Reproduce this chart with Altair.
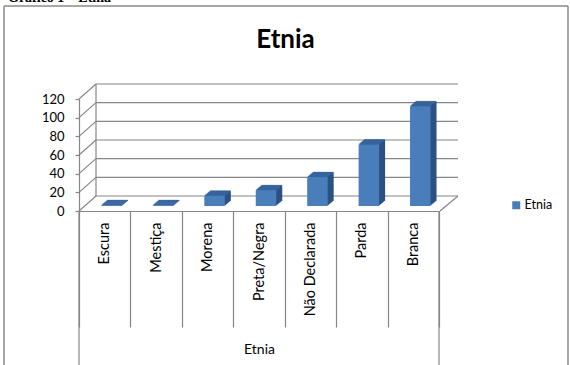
import altair as alt
import pandas as pd

# ---- data ----
categories = ["Escura", "Mestiça", "Morena", "Preta/Negra", "Não Declarada", "Parda", "Branca"]
values = [1, 1, 11, 17, 31, 66, 107]
series = ["Etnia"] * len(categories)
grid_values = [0, 20, 40, 60, 80, 100, 120]
chart_title = "Etnia"
axis_title = "Etnia"
header_text = "Gráfico 1 – Etnia"

df = pd.DataFrame({"categoria": categories, "valor": values, "serie": series})
grid_df = pd.DataFrame({"valor": grid_values})
edge_df = pd.DataFrame({"valor": [grid_values[0]], "topo": [grid_values[-1]]})
one = pd.DataFrame({"t": [chart_title]})
hdr = pd.DataFrame({"t": [header_text]})

# ---- layout / style ----
W, H = 360, 112
PAD_L, PAD_T = 79, 99
FRONT = "#4A7EBB"
SIDE = "#2B5183"
TOP = "#3A68A2"
GRAY = "#868686"
FONT = "Lato"
BW = 20.5          # bar front width
XO = 7.0           # bar shift to mid depth
YO = -5.0
DX, DY = 6.0, 5.0  # bar depth
WALL_DX, WALL_DY = 17.0, 15.0
NSTEP = 6

yscale = alt.Scale(domain=[0, 120], nice=False)
xscale = alt.Scale(paddingInner=0, paddingOuter=0)

x_axis = alt.Axis(
    title=axis_title, titleFont=FONT, titleFontSize=14, titleFontWeight="normal",
    titleColor="black", titlePadding=15,
    labelAngle=270, labelAlign="right", labelBaseline="middle",
    labelFont=FONT, labelFontSize=14.5, labelColor="black", labelPadding=-105,
    tickBand="extent", tickSize=116, tickColor=GRAY, tickWidth=1.2,
    domainColor=GRAY, domainWidth=1.2,
)
y_axis = alt.Axis(
    title=None, values=grid_values, labelFont=FONT, labelFontSize=13, labelColor="black",
    labelPadding=11, tickSize=4, tickColor=GRAY, tickWidth=1.2,
    domainColor=GRAY, domainWidth=1.2, grid=False,
)

X_ax = alt.X("categoria:N", sort=categories, scale=xscale, axis=x_axis)
Y_ax = alt.Y("valor:Q", scale=yscale, axis=y_axis)

layers = []

# back wall gridlines
layers.append(
    alt.Chart(grid_df).mark_rule(color=GRAY, strokeWidth=1.2, yOffset=-WALL_DY)
    .encode(y=Y_ax, x=alt.value(WALL_DX), x2=alt.value(W + 19))
)
# diagonals from front axis to back wall
layers.append(
    alt.Chart(grid_df).mark_rule(color=GRAY, strokeWidth=1.2, y2Offset=-WALL_DY)
    .encode(y=Y_ax, y2=alt.Y2("valor:Q"), x=alt.value(0), x2=alt.value(WALL_DX))
)
# back-left vertical edge
layers.append(
    alt.Chart(edge_df).mark_rule(color=GRAY, strokeWidth=1.2, yOffset=-WALL_DY, y2Offset=-WALL_DY)
    .encode(y=Y_ax, y2=alt.Y2("topo:Q"), x=alt.value(WALL_DX))
)
# floor right diagonal
layers.append(
    alt.Chart(edge_df).mark_rule(color=GRAY, strokeWidth=1.2, y2Offset=-WALL_DY)
    .encode(y=Y_ax, y2=alt.Y2("valor:Q"), x=alt.value(W + 1), x2=alt.value(W + 19))
)
# outer long separators of the category axis
for xv in [0, W]:
    layers.append(
        alt.Chart(one).mark_rule(color=GRAY, strokeWidth=1.2)
        .encode(x=alt.value(xv), y=alt.value(H), y2=alt.value(H + 200))
    )

# bar extrusion (side)
for k in range(1, NSTEP + 1):
    dx = XO + DX * k / NSTEP
    dy = YO - DY * k / NSTEP
    layers.append(
        alt.Chart(df).mark_bar(size=BW, color=SIDE, xOffset=dx, yOffset=dy, y2Offset=dy)
        .encode(x=X_ax, y=Y_ax)
    )
# bar top face
for k in range(NSTEP):
    f = (k + 0.5) / NSTEP
    layers.append(
        alt.Chart(df).mark_tick(size=BW, thickness=1.4, color=TOP,
                                xOffset=XO + DX * f, yOffset=YO - DY * f)
        .encode(x=X_ax, y=Y_ax)
    )
# bar front face (legend)
layers.append(
    alt.Chart(df).mark_bar(size=BW, xOffset=XO, yOffset=YO, y2Offset=YO)
    .encode(
        x=X_ax, y=Y_ax,
        color=alt.Color("serie:N", scale=alt.Scale(range=[FRONT]),
                        legend=alt.Legend(orient="none", legendX=431, legendY=100, title=None,
                                          padding=0, symbolType="square", symbolSize=64,
                                          symbolStrokeWidth=0, labelFont=FONT, labelFontSize=12.5,
                                          labelColor="black", labelOffset=2)),
    )
)

# chart title
layers.append(
    alt.Chart(one).mark_text(font=FONT, fontSize=26, fontWeight="bold", color="black",
                             align="center", baseline="alphabetic")
    .encode(text="t:N", x=alt.value(285.5 - PAD_L), y=alt.value(48 - PAD_T))
)
# header text above the frame (cut off at the top in the reference)
layers.append(
    alt.Chart(hdr).mark_text(font="Liberation Serif", fontSize=14, fontWeight="bold", color="black",
                             align="left", baseline="alphabetic")
    .encode(text="t:N", x=alt.value(8 - PAD_L), y=alt.value(2 - PAD_T))
)
# outer frame
FR = "#8A8A8A"
layers.append(alt.Chart(one).mark_rule(color=FR, strokeWidth=1.5)
              .encode(x=alt.value(4 - PAD_L), x2=alt.value(568 - PAD_L), y=alt.value(6 - PAD_T)))
layers.append(alt.Chart(one).mark_rule(color=FR, strokeWidth=1.5)
              .encode(x=alt.value(4 - PAD_L), y=alt.value(6 - PAD_T), y2=alt.value(400)))
layers.append(alt.Chart(one).mark_rule(color=FR, strokeWidth=1.5)
              .encode(x=alt.value(568 - PAD_L), y=alt.value(6 - PAD_T), y2=alt.value(400)))

chart = alt.layer(*layers).properties(
    width=W, height=H,
    autosize=alt.AutoSizeParams(type="none"),
    padding={"left": PAD_L, "top": PAD_T, "right": 570 - PAD_L - W, "bottom": 365 - PAD_T - H},
    background="white",
).configure_view(stroke=None)

chart.save("out.html", embed_options={"renderer": "svg", "actions": False})
